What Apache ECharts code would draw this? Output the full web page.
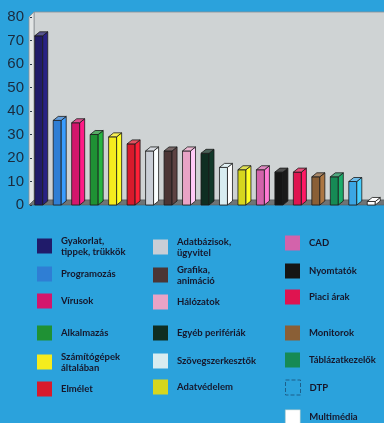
<!DOCTYPE html>
<html>
<head>
<meta charset="utf-8">
<style>
  html, body { margin: 0; padding: 0; background: #2ba2dc; }
  #chart { width: 384px; height: 423px; }
</style>
<script src="https://cdn.jsdelivr.net/npm/echarts@6/dist/echarts.min.js"></script>
</head>
<body>
<div id="chart"></div>
<script>
// Topic categories, in bar order
const categories = [
  'Gyakorlat,\ntippek, trükkök', 'Programozás', 'Vírusok', 'Alkalmazás',
  'Számítógépek\náltalában', 'Elmélet', 'Adatbázisok,\nügyvitel', 'Grafika,\nanimáció',
  'Hálózatok', 'Egyéb perifériák', 'Szövegszerkesztők', 'Adatvédelem',
  'CAD', 'Nyomtatók', 'Piaci árak', 'Monitorok', 'Táblázatkezelők', 'DTP', 'Multimédia'
];
// Value per category
const values = [72, 36, 35, 30, 29, 26, 23, 23, 23, 22, 16, 15, 15, 14, 14, 12, 12, 10, 1.5];
// Fill colour per category
const colors = [
  '#201b6a', '#2f7ed4', '#d3166c', '#1f9134', '#f5ec1e', '#d81a2c', '#c9ced6', '#4b3535',
  '#e9a3c6', '#0f2e22', '#d8ecf0', '#d6d61e', '#d363ab', '#151515', '#df1450', '#8a5f36',
  '#168a55', '#3ba6e4', '#ffffff'
];
// Y axis tick labels
const yTicks = [0, 10, 20, 30, 40, 50, 60, 70, 80];

// Legend placement: column x of the swatch, vertical centre of the row
const legendCols = [37, 153, 285];
const legendRows = [
  [0, 246], [0, 274], [0, 301], [0, 333], [0, 362], [0, 389],
  [1, 247], [1, 275], [1, 302], [1, 333], [1, 361], [1, 387],
  [2, 243], [2, 271], [2, 297], [2, 333], [2, 360], [2, 387], [2, 417]
];

const chart = echarts.init(document.getElementById('chart'), null, { renderer: 'canvas' });

const DX = 5, DY = 4;      // depth of the 3D boxes
const FRONT_W = 8;

function shade(c, amt) {
  try { return echarts.color.lift(c, amt); } catch (e) { return c; }
}

function renderBox(params, api) {
  const idx = api.value(0);
  const v = api.value(1);
  const top = api.coord([idx, v]);
  const base = api.coord([idx, 0]);
  const c = top[0];
  const x0 = c - 6.5, x1 = x0 + FRONT_W;
  const color = colors[idx];
  const stroke = { stroke: '#1a1a1a', lineWidth: 0.8 };
  return {
    type: 'group',
    children: [
      { type: 'rect', shape: { x: x0, y: top[1], width: FRONT_W, height: base[1] - top[1] },
        style: Object.assign({ fill: color }, stroke) },
      { type: 'polygon', shape: { points: [[x1, top[1]], [x1 + DX, top[1] - DY], [x1 + DX, base[1] - DY], [x1, base[1]]] },
        style: Object.assign({ fill: shade(color, -0.25) }, stroke) },
      { type: 'polygon', shape: { points: [[x0, top[1]], [x0 + DX, top[1] - DY], [x1 + DX, top[1] - DY], [x1, top[1]]] },
        style: Object.assign({ fill: shade(color, 0.25) }, stroke) }
    ]
  };
}

const series = categories.map((name, i) => ({
  type: 'custom',
  name: name,
  renderItem: renderBox,
  itemStyle: { color: colors[i] },
  data: [[i, values[i]]],
  z: 3
}));

const legends = categories.map((name, i) => {
  const [col, cy] = legendRows[i];
  const lines = name.split('\n').length;
  const h = Math.max(15, lines * 11);
  const item = { name: name };
  if (name === 'DTP') {
    item.itemStyle = { color: 'rgba(0,0,0,0)', borderColor: '#1d5f8a', borderWidth: 1, borderType: 'dashed' };
  } else if (name === 'Multimédia') {
    item.itemStyle = { color: '#ffffff', borderColor: '#9bb', borderWidth: 0.5 };
  }
  return {
    orient: 'vertical',
    left: legendCols[col],
    top: cy - h / 2,
    padding: 0,
    itemWidth: 15,
    itemHeight: 15,
    icon: 'rect',
    selectedMode: false,
    data: [item],
    textStyle: {
      fontFamily: 'Lato', fontSize: 9.5, fontWeight: 'bold', color: '#16162a', lineHeight: 11,
      padding: [0, 0, 0, 4]
    }
  };
});

chart.setOption({
  backgroundColor: '#2ba2dc',
  animation: false,
  grid: { left: 32, right: 1, top: 17, bottom: 218 },
  xAxis: {
    type: 'category',
    data: categories,
    axisLine: { show: false },
    axisTick: { show: false },
    axisLabel: { show: false }
  },
  yAxis: {
    type: 'value',
    min: yTicks[0],
    max: yTicks[yTicks.length - 1],
    interval: yTicks[1] - yTicks[0],
    splitLine: { show: false },
    axisLine: { show: false },
    axisTick: { show: true, length: 2, inside: false, lineStyle: { color: '#2a3a4a', width: 1 } },
    axisLabel: {
      margin: 8, fontFamily: 'Liberation Sans', fontSize: 15, color: '#1b2a3c',
      formatter: v => String(v)
    }
  },
  legend: legends,
  graphic: [
    // back wall
    { type: 'rect', z: 0, shape: { x: 34, y: 12, width: 360, height: 188 },
      style: { fill: '#cfd3d4', stroke: '#8a9094', lineWidth: 0.8 } },
    // left side wall
    { type: 'polygon', z: 0, shape: { points: [[29, 17], [34, 12], [34, 200], [29, 205]] },
      style: { fill: '#e2e5e5', stroke: '#8a9094', lineWidth: 0.8 } },
    // floor
    { type: 'polygon', z: 0, shape: { points: [[29, 205], [34, 200], [390, 200], [390, 205]] },
      style: { fill: '#6f7476', stroke: '#555a5c', lineWidth: 0.6 } }
  ],
  series: series
});
</script>
</body>
</html>
